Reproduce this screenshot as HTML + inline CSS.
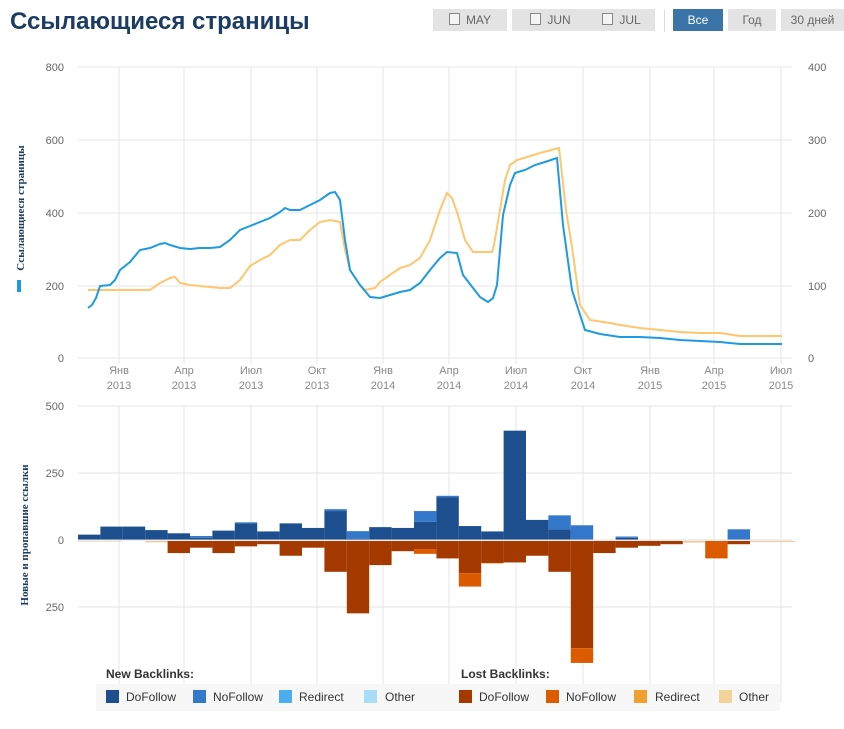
<!DOCTYPE html>
<html><head><meta charset="utf-8"><style>
body{margin:0;background:#fff;width:844px;height:729px;overflow:hidden;font-family:"Liberation Sans",sans-serif}
.btn{position:absolute;top:9px;height:22px;background:#e3e3e3;color:#666;font-size:12px;line-height:22px;text-align:center}
.cb{display:inline-block;width:9px;height:10px;border:1px solid #888;background:#f4f4f4;vertical-align:-1px;margin-right:6px}
</style></head><body>
<div style="position:absolute;left:10px;top:8px;font-size:24px;font-weight:bold;color:#1b3c63">Ссылающиеся страницы</div>
<div class="btn" style="left:433px;width:74px"><span class="cb"></span>MAY</div>
<div class="btn" style="left:512px;width:77px"><span class="cb"></span>JUN</div>
<div class="btn" style="left:588px;width:67px"><span class="cb"></span>JUL</div>
<div style="position:absolute;left:664px;top:10px;width:1px;height:22px;background:#ddd"></div>
<div class="btn" style="left:673px;width:50px;background:#3a74a8;color:#fff">Все</div>
<div class="btn" style="left:728px;width:48px">Год</div>
<div class="btn" style="left:781px;width:63px">30 дней</div>
<svg width="844" height="729" style="position:absolute;left:0;top:0" font-family="Liberation Sans,sans-serif">
<g stroke="#e6e6e6" stroke-width="1">
<line x1="78" x2="792" y1="67" y2="67"/><line x1="78" x2="792" y1="140" y2="140"/><line x1="78" x2="792" y1="213" y2="213"/><line x1="78" x2="792" y1="286" y2="286"/><line x1="78" x2="792" y1="358" y2="358"/>
<line x1="78" x2="792" y1="406" y2="406"/><line x1="78" x2="792" y1="473" y2="473"/><line x1="78" x2="792" y1="607" y2="607"/>
<g id="vg"><line x1="119" x2="119" y1="67" y2="364"/><line x1="184" x2="184" y1="67" y2="364"/><line x1="251" x2="251" y1="67" y2="364"/><line x1="317" x2="317" y1="67" y2="364"/><line x1="383" x2="383" y1="67" y2="364"/><line x1="449" x2="449" y1="67" y2="364"/><line x1="516" x2="516" y1="67" y2="364"/><line x1="583" x2="583" y1="67" y2="364"/><line x1="650" x2="650" y1="67" y2="364"/><line x1="714" x2="714" y1="67" y2="364"/><line x1="781" x2="781" y1="67" y2="364"/></g>
<use href="#vg" transform="translate(0,339)"/>
</g>
<g font-size="11" fill="#666" text-anchor="end">
<text x="64" y="71">800</text><text x="64" y="144">600</text><text x="64" y="217">400</text><text x="64" y="290">200</text><text x="64" y="362">0</text>
<text x="64" y="410">500</text><text x="64" y="477">250</text><text x="64" y="544">0</text><text x="64" y="611">250</text>
</g>
<g font-size="11" fill="#666"><text x="808" y="71">400</text><text x="808" y="144">300</text><text x="808" y="217">200</text><text x="808" y="290">100</text><text x="808" y="362">0</text></g>
<g font-size="11" fill="#888" text-anchor="middle">
<text x="119" y="374">Янв</text><text x="119" y="389">2013</text>
<text x="184" y="374">Апр</text><text x="184" y="389">2013</text>
<text x="251" y="374">Июл</text><text x="251" y="389">2013</text>
<text x="317" y="374">Окт</text><text x="317" y="389">2013</text>
<text x="383" y="374">Янв</text><text x="383" y="389">2014</text>
<text x="449" y="374">Апр</text><text x="449" y="389">2014</text>
<text x="516" y="374">Июл</text><text x="516" y="389">2014</text>
<text x="583" y="374">Окт</text><text x="583" y="389">2014</text>
<text x="650" y="374">Янв</text><text x="650" y="389">2015</text>
<text x="714" y="374">Апр</text><text x="714" y="389">2015</text>
<text x="781" y="374">Июл</text><text x="781" y="389">2015</text>
</g>
<text transform="translate(24,208) rotate(-90)" text-anchor="middle" font-family="Liberation Serif,serif" font-weight="bold" font-size="11" fill="#1b3c63">Ссылающиеся страницы</text>
<rect x="17" y="280" width="4" height="12" fill="#1e9be0"/>
<text transform="translate(28,535) rotate(-90)" text-anchor="middle" font-family="Liberation Serif,serif" font-weight="bold" font-size="11" fill="#1b3c63">Новые и пропавшие ссылки</text>
<polyline fill="none" stroke="#ffc66e" stroke-width="2" points="88,290 150,290 160,283 170,278 175,277 180,283 190,285 210,287 220,288 230,288 240,280 250,266 260,260 270,255 280,245 290,240 300,240 310,230 320,222 330,220 340,222 345,250 350,270 360,285 365,290 375,288 380,282 390,275 400,268 410,265 420,258 430,240 440,210 447,193 452,198 458,215 465,240 473,252 480,252 492,252 494,245 500,210 505,180 510,165 517,160 527,157 540,153 555,149 559,148 566,210 572,247 580,305 590,320 610,323 620,325 640,328 660,330 680,332 700,333 720,333 740,336 782,336"/>
<polyline fill="none" stroke="#1e9be0" stroke-width="2" points="88,308 92,305 96,298 100,286 110,285 115,280 120,270 130,262 140,250 150,248 160,244 165,243 170,245 180,248 190,249 200,248 210,248 220,247 230,240 240,230 250,226 260,222 270,218 280,212 285,208 290,210 300,210 310,205 320,200 330,193 335,192 340,200 345,240 350,270 360,285 370,297 380,298 390,295 400,292 410,290 420,283 430,270 440,258 447,252 457,253 463,275 480,297 488,302 493,298 497,285 503,215 510,185 515,173 525,170 535,165 545,162 557,158 563,225 572,290 585,330 600,334 620,337 640,337 660,338 680,340 700,341 720,342 740,344 782,344"/>
<g id="bars"></g>
<line x1="78" x2="792" y1="540" y2="540" stroke="#ddd"/>
<rect x="96" y="684" width="684" height="27" fill="#f7f7f7"/>
<g font-size="12" fill="#333" font-weight="bold"><text x="106" y="678">New Backlinks:</text><text x="461" y="678">Lost Backlinks:</text></g>
<g font-size="12" fill="#333">
<rect x="106" y="690" width="13" height="13" fill="#1d4f8e"/><text x="126" y="701">DoFollow</text>
<rect x="193" y="690" width="13" height="13" fill="#3478cc"/><text x="213" y="701">NoFollow</text>
<rect x="279" y="690" width="13" height="13" fill="#4aaef0"/><text x="299" y="701">Redirect</text>
<rect x="364" y="690" width="13" height="13" fill="#a8ddf5"/><text x="385" y="701">Other</text>
<rect x="459" y="690" width="13" height="13" fill="#a53a00"/><text x="479" y="701">DoFollow</text>
<rect x="546" y="690" width="13" height="13" fill="#dd5b00"/><text x="566" y="701">NoFollow</text>
<rect x="634" y="690" width="13" height="13" fill="#f0a030"/><text x="655" y="701">Redirect</text>
<rect x="719" y="690" width="13" height="13" fill="#f2d49a"/><text x="739" y="701">Other</text>
</g>
</svg>
<script>
var pos=[[20,0],[50,0],[50,0],[37,0],[25,0],[8,7],[35,0],[62,4],[32,0],[62,0],[45,0],[108,7],[5,28],[48,0],[45,0],[68,40],[160,5],[52,0],[32,0],[408,0],[75,0],[40,52],[0,55],[0,0],[8,5],[0,0],[0,0],[0,0],[0,0],[0,40],[0,0],[0,0]];
var neg=[[0,0,2],[0,0,2],[0,0,0],[0,0,5],[45,0,0],[25,0,0],[45,0,0],[20,0,0],[12,0,0],[55,0,0],[25,0,0],[115,0,0],[270,0,0],[90,0,0],[38,0,0],[30,18,0],[65,0,0],[120,50,0],[82,0,4],[80,0,0],[55,0,0],[115,0,0],[400,55,0],[45,0,0],[25,0,0],[18,0,0],[12,0,0],[0,0,6],[0,65,0],[12,0,0],[0,0,4],[0,0,4]];
var s=0.268,y0=540,g=document.getElementById('bars'),h='';
function r(x,y,w,hh,c){if(hh>0)h+='<rect x="'+x+'" y="'+y+'" width="'+w+'" height="'+hh+'" fill="'+c+'"/>';}
for(var i=0;i<32;i++){var x=78+i*22.4,w=22.4;
var a=pos[i][0]*s,b=pos[i][1]*s;r(x,y0-a,w,a,'#1d4f8e');r(x,y0-a-b,w,b,'#3478cc');
var c=neg[i][0]*s,d=neg[i][1]*s,e=neg[i][2]*s;r(x,y0+1,w,c,'#a53a00');r(x,y0+1+c,w,d,'#dd5b00');r(x,y0+1+c+d,w,e,'#f2c89a');}
g.innerHTML=h;
</script>
</body></html>
